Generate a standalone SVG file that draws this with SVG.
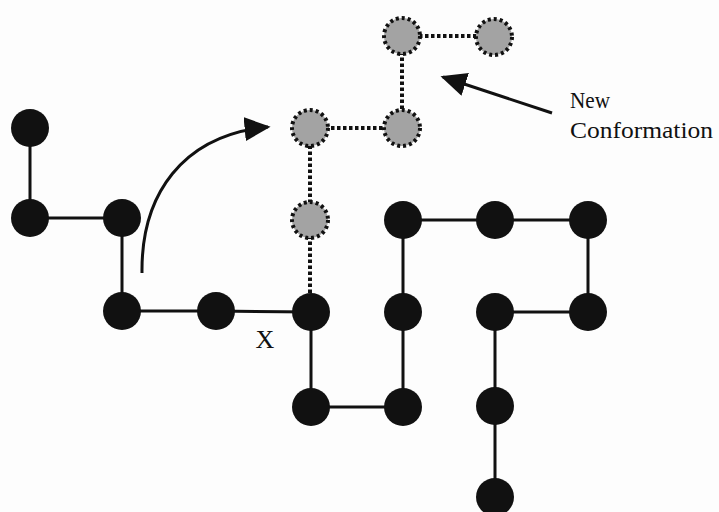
<svg xmlns="http://www.w3.org/2000/svg" width="719" height="512" viewBox="0 0 719 512">
  <style>
    .bond { stroke: #111; stroke-width: 3; fill: none; }
    .bond-new { stroke: #111; stroke-width: 4; stroke-dasharray: 3.5 2.5; fill: none; }
    .bead { fill: #111; }
    .bead-new { fill: #a3a3a3; stroke: #111; stroke-width: 4; stroke-dasharray: 3 3; }
    .arrow { stroke: #111; stroke-width: 3; fill: none; }
    .label { font-family: "Liberation Serif", "Times New Roman", serif; fill: #111; }
  </style>
  <defs>
    <marker id="headBig" viewBox="0 0 10 10" refX="9" refY="5" markerWidth="26" markerHeight="24" markerUnits="userSpaceOnUse" orient="auto" preserveAspectRatio="none">
      <path d="M0,0 L10,5 L0,10 Z" fill="#111"/>
    </marker>
  </defs>
  <rect width="719" height="512" fill="#fdfdfd"/>

  <g id="connectors">
    <!-- chain bonds -->
    <polyline class="bond" points="30,128 30,218 122,218 122,311 216,311 311,312 311,407 403,407 403,312 403,220 495,220 588,220 588,312 495,312 495,406 495,497"/>
    <!-- bonds of the moved segment -->
    <polyline class="bond-new" points="310,293 310,220 310,128 402,128 402,36 494,36"/>
    <!-- move arrow -->
    <path class="arrow" d="M142,273 C141,195 182,135 268,127" marker-end="url(#headBig)"/>
    <!-- label pointer -->
    <line class="arrow" x1="552" y1="113" x2="443" y2="77" marker-end="url(#headBig)"/>
  </g>

  <g id="n1"><circle class="bead" cx="30" cy="128" r="19"/></g>
  <g id="n2"><circle class="bead" cx="30" cy="218" r="19"/></g>
  <g id="n3"><circle class="bead" cx="122" cy="218" r="19"/></g>
  <g id="n4"><circle class="bead" cx="122" cy="311" r="19"/></g>
  <g id="n5"><circle class="bead" cx="216" cy="311" r="19"/></g>
  <g id="n6"><circle class="bead" cx="311" cy="312" r="19"/></g>
  <g id="n7"><circle class="bead" cx="311" cy="407" r="19"/></g>
  <g id="n8"><circle class="bead" cx="403" cy="407" r="19"/></g>
  <g id="n9"><circle class="bead" cx="403" cy="312" r="19"/></g>
  <g id="n10"><circle class="bead" cx="403" cy="220" r="19"/></g>
  <g id="n11"><circle class="bead" cx="495" cy="220" r="19"/></g>
  <g id="n12"><circle class="bead" cx="588" cy="220" r="19"/></g>
  <g id="n13"><circle class="bead" cx="588" cy="312" r="19"/></g>
  <g id="n14"><circle class="bead" cx="495" cy="312" r="19"/></g>
  <g id="n15"><circle class="bead" cx="495" cy="406" r="19"/></g>
  <g id="n16"><circle class="bead" cx="495" cy="497" r="19"/></g>

  <g id="g1"><circle class="bead-new" cx="310" cy="220" r="18"/></g>
  <g id="g2"><circle class="bead-new" cx="310" cy="128" r="18"/></g>
  <g id="g3"><circle class="bead-new" cx="402" cy="128" r="18"/></g>
  <g id="g4"><circle class="bead-new" cx="402" cy="36" r="18"/></g>
  <g id="g5"><circle class="bead-new" cx="494" cy="37" r="18"/></g>

  <g id="labels">
    <text class="label" x="265" y="348" font-size="26" text-anchor="middle">X</text>
    <text class="label" x="570" y="108" font-size="23" textLength="40" lengthAdjust="spacingAndGlyphs">New</text>
    <text class="label" x="570" y="138" font-size="23" textLength="143" lengthAdjust="spacingAndGlyphs">Conformation</text>
  </g>
</svg>
